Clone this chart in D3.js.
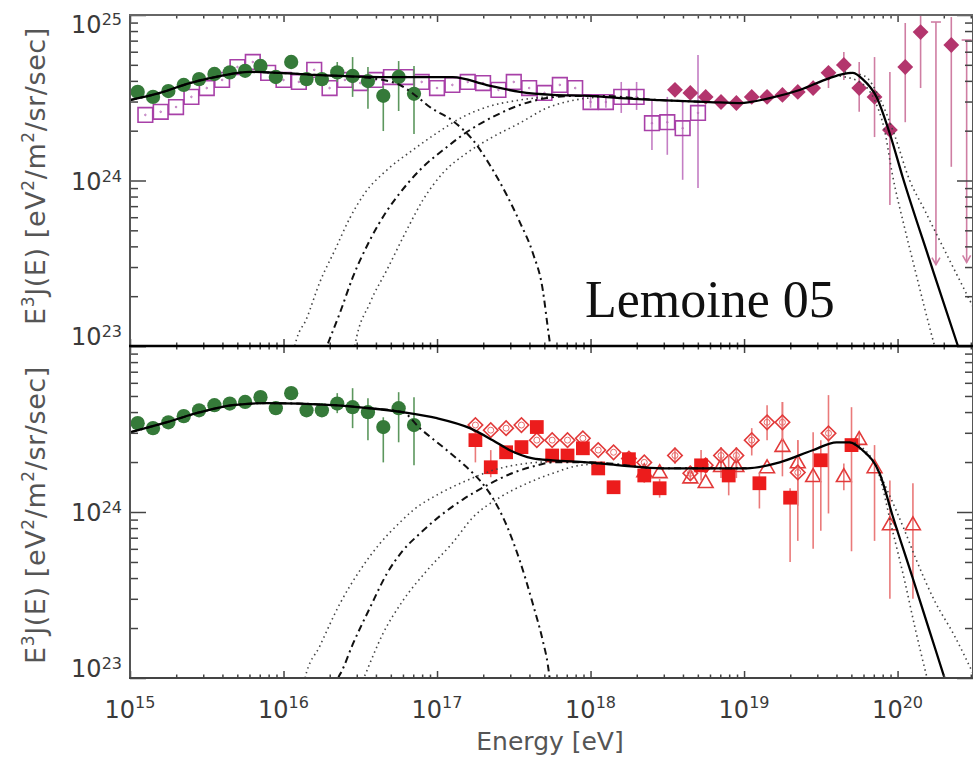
<!DOCTYPE html>
<html>
<head>
<meta charset="utf-8">
<script src="https://cdn.jsdelivr.net/npm/d3@7"></script>
<style>
  body { margin: 0; background: #fff; }
  svg { display: block; }
</style>
</head>
<body>
<svg width="973" height="759"></svg>
<script>
// ---- data (energies as log10 eV, fluxes in units of 1e24 eV^2/m^2/sr/sec) ----

// KASCADE-like green circles (same in both panels)
var greenE  = [15.05,15.15,15.25,15.35,15.45,15.55,15.65,15.75,15.85,15.95,16.05,16.15,16.25,16.35,16.45,16.55,16.65,16.75,16.85];
var greenJ  = [3.43,3.20,3.47,3.78,4.10,4.40,4.50,4.60,4.92,4.22,5.20,4.10,4.10,4.50,4.28,3.99,3.25,4.22,3.34];
var greenLo = [null,null,null,null,null,null,null,null,null,null,null,3.75,3.75,3.94,3.20,2.71,1.99,2.63,1.91];
var greenHi = [null,null,null,null,null,null,null,null,null,null,null,4.50,4.50,5.20,5.57,4.85,3.72,5.27,4.92];

// top panel: open magenta squares
var sqE  = [15.1,15.2,15.3,15.4,15.5,15.6,15.7,15.8,15.9,16.0,16.1,16.2,16.3,16.4,16.5,16.6,16.7,16.8,16.9,17.0,
            17.1,17.2,17.3,17.4,17.5,17.6,17.7,17.8,17.9,18.0,18.1,18.2,18.3,18.4,18.5,18.6,18.7];
var sqJ  = [2.49,2.60,2.78,3.20,3.62,4.05,4.85,5.20,4.47,4.05,3.94,4.66,3.62,4.05,3.88,4.05,4.22,4.22,3.94,3.62,
            3.78,3.94,3.88,3.53,3.94,3.62,3.38,3.78,3.62,2.98,2.98,3.20,3.20,2.22,2.25,2.07,2.56];
var sqLo = [null,null,null,null,null,null,null,null,null,null,null,null,null,null,null,null,null,null,null,null,
            null,null,null,null,null,null,null,null,null,2.75,2.75,2.56,2.67,1.53,1.43,1.01,0.90];
var sqHi = [null,null,null,null,null,null,null,null,null,null,null,null,null,null,null,null,null,null,null,null,
            null,null,null,null,null,null,null,null,null,3.22,3.22,3.94,3.94,3.06,3.20,3.06,5.73];

// top panel: filled diamonds
var dmE  = [18.55,18.65,18.75,18.85,18.95,19.05,19.15,19.25,19.35,19.45,19.55,19.65,19.75,19.85,19.95,20.05,20.15,20.35];
var dmJ  = [3.53,3.38,3.20,2.98,2.94,3.20,3.20,3.29,3.43,3.62,4.47,4.99,3.62,3.20,2.02,4.85,7.89,6.59];
var dmLo = [null,null,null,null,null,null,null,null,3.20,3.30,3.62,4.05,2.60,1.83,0.71,2.25,3.62,1.21];
var dmHi = [null,null,null,null,null,null,null,null,3.70,4.00,4.85,5.97,5.20,5.57,4.53,8.95,10.0,9.72];
// top panel: upper limits
var ulE   = [20.25, 20.45];
var ulTop = [9.07, 7.06];
var ulBot = [0.31, 0.32];

// bottom panel: filled red squares
var rsE  = [17.25,17.35,17.45,17.55,17.65,17.75,17.85,17.95,18.05,18.15,18.25,18.35,18.45,18.72,18.9,19.1,19.3,19.5,19.7];
var rsJ  = [2.71,1.86,2.29,2.46,3.25,2.19,2.19,2.42,1.83,1.41,2.08,1.66,1.39,1.91,1.66,1.49,1.22,2.05,2.53];
var rsLo = [1.99,1.62,2.12,2.28,3.02,2.05,2.05,2.26,1.70,1.30,1.90,1.50,1.22,1.55,1.26,1.05,0.50,0.77,0.58];
var rsHi = [2.95,2.36,2.45,2.64,3.50,2.34,2.34,2.58,1.98,1.54,2.28,1.84,1.58,2.36,2.19,1.73,1.39,2.71,4.28];

// bottom panel: open red diamonds
var rdE  = [17.25,17.35,17.45,17.55,17.65,17.75,17.85,17.95,18.05,18.15,18.25,18.35,18.55,18.65,18.75,18.85,18.95,19.05,19.15,19.25,19.35,19.55];
var rdJ  = [3.34,3.11,3.20,3.34,2.71,2.71,2.71,2.78,2.36,2.29,2.10,1.99,2.19,1.71,1.91,2.19,2.19,2.71,3.47,3.47,1.73,2.98];
var rdLo = [null,null,null,null,null,null,null,null,null,null,null,null,1.95,1.55,1.75,1.83,1.83,2.19,2.71,2.71,1.09,0.98];
var rdHi = [null,null,null,null,null,null,null,null,null,null,null,null,2.45,1.90,2.10,2.46,2.46,3.20,4.40,4.60,2.71,5.06];

// bottom panel: open red triangles
var rtE  = [18.35,18.45,18.65,18.75,18.85,18.95,19.15,19.25,19.35,19.45,19.65,19.75,19.85,19.95,20.1];
var rtJ  = [1.73,1.71,1.59,1.49,1.86,1.86,1.83,2.46,1.96,1.62,1.62,2.71,1.83,0.83,0.83];
var rtLo = [null,null,null,null,1.60,1.60,null,1.64,0.67,0.60,1.35,2.36,0.67,0.30,0.30];
var rtHi = [null,null,null,null,2.20,2.20,null,4.60,2.71,3.02,1.96,2.98,2.53,1.55,1.49];

// model curves, [log10 E, log10 E^3J]
var topTotal = [[15.00,24.486],[15.195,24.529],[15.39,24.589],[15.586,24.631],[15.781,24.656],[15.977,24.65],[16.237,24.637],
  [16.673,24.625],[17.103,24.625],[17.324,24.577],[17.539,24.535],[17.754,24.517],[17.995,24.511],[18.19,24.498],[18.45,24.486],
  [18.776,24.474],[18.971,24.468],[19.167,24.498],[19.362,24.547],[19.557,24.619],[19.642,24.643],[19.707,24.65],[19.772,24.613],
  [19.863,24.505],[19.948,24.287],[20.033,24.021],[20.208,23.52],[20.391,23.006],[20.43,22.9]];
var topGal = [[15.00,24.486],[15.195,24.529],[15.39,24.589],[15.586,24.631],[15.781,24.656],[15.977,24.65],[16.237,24.637],
  [16.563,24.619],[16.758,24.577],[16.855,24.517],[16.953,24.444],[17.103,24.36],[17.233,24.245],[17.344,24.094],[17.454,23.912],
  [17.539,23.749],[17.624,23.562],[17.689,23.338],[17.721,23.115],[17.745,22.95]];
var topExtra = [[16.25,22.92],[16.283,23.0],[16.367,23.199],[16.452,23.417],[16.563,23.64],[16.673,23.816],[16.738,23.9],[16.888,24.063],
  [17.064,24.202],[17.194,24.293],[17.363,24.384],[17.539,24.456],[17.715,24.498],[17.897,24.511],[18.06,24.511],[18.45,24.486],[18.776,24.474]];
var topLowA = [[16.05,22.85],[16.074,23.0],[16.152,23.169],[16.237,23.387],[16.335,23.58],[16.432,23.773],[16.53,23.924],[16.673,24.063],
  [16.842,24.184],[16.999,24.287],[17.168,24.384],[17.324,24.444],[17.539,24.486],[17.799,24.511]];
var topLowB = [[16.44,22.85],[16.465,23.0],[16.563,23.26],[16.673,23.459],[16.803,23.701],[16.908,23.882],[17.038,24.045],[17.194,24.166],
  [17.363,24.263],[17.539,24.347],[17.715,24.438],[17.897,24.486],[18.06,24.505]];
var topHighA = [[19.622,24.631],[19.753,24.595],[19.85,24.486],[19.915,24.305],[19.967,24.033],[20.046,23.713],[20.111,23.471],
  [20.176,23.23],[20.241,23.0],[20.27,22.9]];
var topHighB = [[19.655,24.656],[19.785,24.631],[19.883,24.498],[19.98,24.275],[20.078,24.003],[20.176,23.822],[20.273,23.64],
  [20.371,23.459],[20.49,23.24]];

var botTotal = [[15.00,24.48],[15.241,24.541],[15.456,24.601],[15.671,24.644],[15.892,24.656],[16.322,24.644],[16.563,24.625],
  [16.777,24.601],[16.999,24.565],[17.214,24.505],[17.363,24.432],[17.474,24.372],[17.624,24.323],[17.754,24.311],[17.975,24.299],
  [18.19,24.281],[18.47,24.263],[19.017,24.263],[19.232,24.299],[19.447,24.372],[19.603,24.42],[19.688,24.42],[19.772,24.372],
  [19.883,24.233],[19.967,23.979],[20.098,23.604],[20.208,23.284],[20.306,23.0],[20.34,22.9]];
var botGal = [[15.00,24.48],[15.241,24.541],[15.456,24.601],[15.671,24.644],[15.892,24.656],[16.322,24.644],[16.563,24.625],
  [16.777,24.601],[16.888,24.505],[17.064,24.372],[17.194,24.269],[17.279,24.19],[17.344,24.112],[17.454,23.918],[17.539,23.707],
  [17.624,23.447],[17.689,23.224],[17.721,23.085],[17.74,22.95]];
var botExtra = [[16.33,22.9],[16.354,22.994],[16.38,23.042],[16.452,23.205],[16.563,23.423],[16.673,23.628],[16.777,23.767],[16.888,23.87],
  [17.018,23.975],[17.168,24.075],[17.324,24.16],[17.493,24.235],[17.65,24.28],[17.754,24.299],[17.995,24.299],[18.47,24.263],[19.017,24.263]];
var botLowA = [[16.11,22.85],[16.139,22.994],[16.237,23.193],[16.367,23.447],[16.497,23.647],[16.628,23.81],[16.758,23.937],[16.842,24.009],
  [17.018,24.112],[17.194,24.19],[17.363,24.251],[17.585,24.293],[17.799,24.305]];
var botLowB = [[16.49,22.93],[16.52,22.994],[16.647,23.266],[16.777,23.465],[16.934,23.647],[17.103,23.816],[17.233,23.967],[17.409,24.088],
  [17.585,24.172],[17.754,24.233],[17.93,24.281],[18.125,24.293]];
var botHighA = [[19.688,24.42],[19.785,24.36],[19.87,24.251],[19.967,23.888],[20.046,23.586],[20.111,23.314],[20.189,23.012],[20.22,22.9]];
var botHighB = [[19.72,24.42],[19.818,24.341],[19.948,24.1],[20.046,23.888],[20.124,23.707],[20.241,23.465],[20.371,23.254],[20.49,23.03]];

var xMajor = [15, 16, 17, 18, 19, 20];
var yMajor = [23, 24, 25];

// ---------------------------------------------------------------------------
var svg = d3.select("svg");
var font = "'DejaVu Sans', sans-serif";

var x = d3.scaleLog().domain([1e15, 3.1e20]).range([130, 973]);

var panels = [
  { top: 15,  bottom: 346, title: 176 },
  { top: 346, bottom: 678, title: 515 }
];
panels.forEach(function(p, i) {
  p.y = d3.scaleLog().domain([1e23, 1e25]).range([p.bottom, p.top]);
  svg.append("defs").append("clipPath").attr("id", "clip" + i)
     .append("rect").attr("x", 130).attr("y", p.top)
     .attr("width", 843).attr("height", p.bottom - p.top);
  p.g = svg.append("g").attr("clip-path", "url(#clip" + i + ")");
});

function line(y) {
  return d3.line()
    .x(function(d) { return x(Math.pow(10, d[0])); })
    .y(function(d) { return y(Math.pow(10, d[1])); })
    .curve(d3.curveMonotoneX);
}

// error bars + markers
function drawSet(p, E, J, lo, hi, sym, size, fill, stroke, barColor, rot, dot) {
  var g = p.g.append("g");
  var pts = E.map(function(e, i) { return { e: e, j: J[i], lo: lo[i], hi: hi[i] }; });
  g.selectAll("line.err").data(pts.filter(function(d) { return d.lo != null; }))
    .enter().append("line")
    .attr("x1", function(d) { return x(Math.pow(10, d.e)); })
    .attr("x2", function(d) { return x(Math.pow(10, d.e)); })
    .attr("y1", function(d) { return p.y(d.lo * 1e24); })
    .attr("y2", function(d) { return p.y(d.hi * 1e24); })
    .attr("stroke", barColor).attr("stroke-width", 1.6);
  g.selectAll("path.m").data(pts).enter().append("path")
    .attr("d", d3.symbol().type(sym).size(size))
    .attr("transform", function(d) {
      return "translate(" + x(Math.pow(10, d.e)) + "," + p.y(d.j * 1e24) + ")" + (rot ? " rotate(45)" : "");
    })
    .attr("fill", fill).attr("stroke", stroke).attr("stroke-width", stroke == "none" ? 0 : 1.6);
  if (dot) {
    g.selectAll("circle.d").data(pts).enter().append("circle")
      .attr("cx", function(d) { return x(Math.pow(10, d.e)); })
      .attr("cy", function(d) { return p.y(d.j * 1e24); })
      .attr("r", dot.r).attr("fill", "none").attr("stroke", dot.color).attr("stroke-width", 1);
  }
}

// ---- top panel ----
var P0 = panels[0], P1 = panels[1];
drawSet(P0, sqE, sqJ, sqLo, sqHi, d3.symbolSquare, 215, "none", "#a840a8", "#c47ec4", false, { r: 0.8, color: "#b86ab8" });
drawSet(P0, greenE, greenJ, greenLo, greenHi, d3.symbolCircle, 160, "#357a39", "none", "#5c975d", false);
drawSet(P0, dmE, dmJ, dmLo, dmHi, d3.symbolSquare, 125, "#b3356d", "none", "#cf7ea3", true);

// upper limits
var ul = P0.g.append("g").attr("stroke", "#cf7ea3").attr("stroke-width", 1.6).attr("fill", "none");
ulE.forEach(function(e, i) {
  var xx = x(Math.pow(10, e)), yt = P0.y(ulTop[i] * 1e24), yb = P0.y(ulBot[i] * 1e24);
  ul.append("line").attr("x1", xx).attr("x2", xx).attr("y1", yt).attr("y2", yb);
  ul.append("line").attr("x1", xx - 5).attr("x2", xx + 5).attr("y1", yt).attr("y2", yt);
  ul.append("path").attr("d", "M" + (xx - 4) + "," + (yb - 7) + "L" + xx + "," + yb + "L" + (xx + 4) + "," + (yb - 7));
});

// ---- bottom panel ----
drawSet(P1, greenE, greenJ, greenLo, greenHi, d3.symbolCircle, 160, "#357a39", "none", "#5c975d", false);
drawSet(P1, rtE, rtJ, rtLo, rtHi, d3.symbolTriangle, 95, "none", "#e23a3a", "#ea7a7a", false);
drawSet(P1, rdE, rdJ, rdLo, rdHi, d3.symbolSquare, 105, "none", "#e23a3a", "#ea7a7a", true, { r: 3, color: "#e86a6a" });
drawSet(P1, rsE, rsJ, rsLo, rsHi, d3.symbolSquare, 190, "#ec1c1c", "none", "#ea7a7a", false);

// ---- model curves ----
function curves(p, total, gal, extra, lowA, lowB, highA, highB) {
  var l = line(p.y);
  [lowA, lowB, highA, highB].forEach(function(c) {
    p.g.append("path").attr("d", l(c)).attr("fill", "none")
      .attr("stroke", "#444").attr("stroke-width", 1.6).attr("stroke-dasharray", "1.5,3.5");
  });
  [gal, extra].forEach(function(c) {
    p.g.append("path").attr("d", l(c)).attr("fill", "none")
      .attr("stroke", "#111").attr("stroke-width", 2).attr("stroke-dasharray", "7,4,2,4");
  });
  p.g.append("path").attr("d", l(total)).attr("fill", "none")
    .attr("stroke", "#000").attr("stroke-width", 2.3);
}
curves(P0, topTotal, topGal, topExtra, topLowA, topLowB, topHighA, topHighB);
curves(P1, botTotal, botGal, botExtra, botLowA, botLowB, botHighA, botHighB);

// ---- axes: ticks via d3 axes ----
var xMinor = [];
xMajor.forEach(function(d) { for (var m = 2; m <= 9; m++) if (m * Math.pow(10, d) <= 3.1e20) xMinor.push(m * Math.pow(10, d)); });
var xMajV = xMajor.map(function(d) { return Math.pow(10, d); });
var yMinor = [];
[23, 24].forEach(function(d) { for (var m = 2; m <= 9; m++) yMinor.push(m * Math.pow(10, d)); });
var yMajV = yMajor.map(function(d) { return Math.pow(10, d); });

function styleAxis(sel) {
  sel.select(".domain").remove();
  sel.selectAll("line").attr("stroke", "#444").attr("stroke-width", 1.5);
  sel.selectAll("text").remove();
}

panels.forEach(function(p) {
  [[xMajV, 7], [xMinor, 3.5]].forEach(function(t) {
    svg.append("g").attr("transform", "translate(0," + p.bottom + ")")
      .call(d3.axisBottom(x).tickValues(t[0]).tickSize(-t[1]).tickFormat("")).call(styleAxis);
    svg.append("g").attr("transform", "translate(0," + p.top + ")")
      .call(d3.axisTop(x).tickValues(t[0]).tickSize(-t[1]).tickFormat("")).call(styleAxis);
  });
  [[yMajV, 16], [yMinor, 8]].forEach(function(t) {
    svg.append("g").attr("transform", "translate(130,0)")
      .call(d3.axisLeft(p.y).tickValues(t[0]).tickSize(-t[1]).tickFormat("")).call(styleAxis);
    svg.append("g").attr("transform", "translate(973,0)")
      .call(d3.axisRight(p.y).tickValues(t[0]).tickSize(-t[1]).tickFormat("")).call(styleAxis);
  });
});

// frame
var frame = svg.append("g").attr("fill", "none");
frame.append("line").attr("x1", 130).attr("x2", 130).attr("y1", 15).attr("y2", 678).attr("stroke", "#555").attr("stroke-width", 2);
frame.append("line").attr("x1", 973).attr("x2", 973).attr("y1", 15).attr("y2", 678).attr("stroke", "#555").attr("stroke-width", 2);
frame.append("line").attr("x1", 129).attr("x2", 973).attr("y1", 15).attr("y2", 15).attr("stroke", "#666").attr("stroke-width", 2);
frame.append("line").attr("x1", 129).attr("x2", 973).attr("y1", 678).attr("y2", 678).attr("stroke", "#444").attr("stroke-width", 2.2);
frame.append("line").attr("x1", 129).attr("x2", 973).attr("y1", 346).attr("y2", 346).attr("stroke", "#000").attr("stroke-width", 2.5);

// ---- tick labels ----
function power(g, base, exp, supSize, supDy) {
  g.append("tspan").text(base);
  g.append("tspan").attr("dy", supDy).attr("font-size", supSize).text(exp);
}

panels.forEach(function(p, i) {
  yMajor.forEach(function(d) {
    if (i == 1 && d == 25) return;
    var yy = Math.max(p.top + 18, Math.min(p.bottom - 1, p.y(Math.pow(10, d)) + 9));
    var t = svg.append("text").attr("x", 122).attr("y", yy).attr("text-anchor", "end")
      .attr("font-family", font).attr("font-size", 24).attr("fill", "#3a3a3a");
    power(t, "10", String(d), 16, -8);
  });
  var ti = svg.append("text")
    .attr("transform", "translate(45," + p.title + ") rotate(-90)")
    .attr("text-anchor", "middle").attr("font-family", font).attr("font-size", 27)
    .attr("fill", "#555").attr("letter-spacing", 0.6);
  ti.append("tspan").text("E");
  ti.append("tspan").attr("dy", -11).attr("font-size", 17).text("3");
  ti.append("tspan").attr("dy", 11).text("J(E)  [eV");
  ti.append("tspan").attr("dy", -11).attr("font-size", 17).text("2");
  ti.append("tspan").attr("dy", 11).text("/m");
  ti.append("tspan").attr("dy", -11).attr("font-size", 17).text("2");
  ti.append("tspan").attr("dy", 11).text("/sr/sec]");
});

xMajor.forEach(function(d) {
  var t = svg.append("text").attr("x", x(Math.pow(10, d))).attr("y", 718).attr("text-anchor", "middle")
    .attr("font-family", font).attr("font-size", 24).attr("fill", "#3a3a3a");
  power(t, "10", String(d), 16, -10);
});

svg.append("text").attr("x", 550).attr("y", 750).attr("text-anchor", "middle")
  .attr("font-family", font).attr("font-size", 25).attr("fill", "#555").text("Energy [eV]");

svg.append("text").attr("x", 585).attr("y", 317)
  .attr("font-family", "'Liberation Serif', 'Times New Roman', serif").attr("font-size", 52).attr("fill", "#111")
  .text("Lemoine 05");

// bottom of a cut-off title letter above the chart
svg.append("text").attr("x", 545).attr("y", -21).attr("text-anchor", "middle")
  .attr("font-family", "'Liberation Sans', Arial, sans-serif").attr("font-size", 80).attr("fill", "#1f3ccc")
  .text("g");
</script>
</body>
</html>
